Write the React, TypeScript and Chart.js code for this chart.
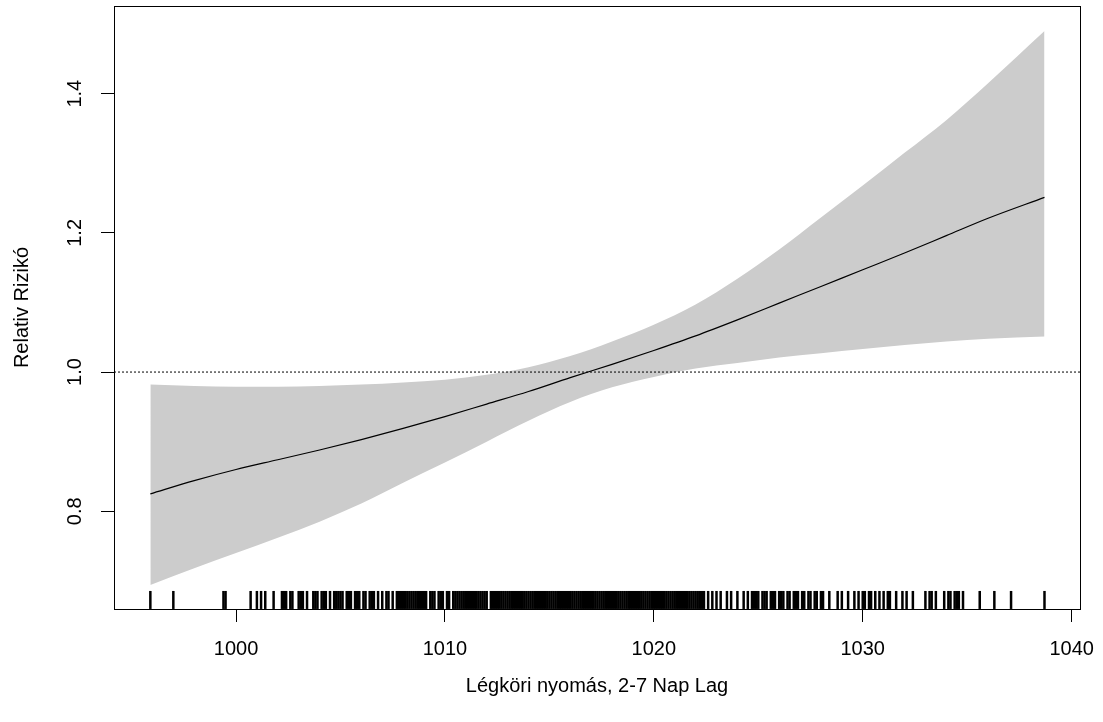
import React, { useEffect, useRef } from 'react';
import { Chart, registerables } from 'chart.js';

Chart.register(...registerables);

// ---- data ----
const bandX = [995.9, 998, 1000, 1002, 1004, 1006, 1008, 1010, 1012, 1014, 1016, 1018, 1020, 1022, 1024, 1026, 1028, 1030, 1032, 1034, 1036, 1038.7];
const rrFit = [0.825, 0.844, 0.86, 0.874, 0.888, 0.903, 0.919, 0.936, 0.954, 0.972, 0.992, 1.011, 1.031, 1.052, 1.075, 1.099, 1.123, 1.147, 1.171, 1.196, 1.221, 1.251];
const rrUpper = [0.982, 0.98, 0.979, 0.979, 0.98, 0.982, 0.985, 0.989, 0.996, 1.007, 1.023, 1.044, 1.068, 1.097, 1.134, 1.176, 1.222, 1.268, 1.315, 1.362, 1.415, 1.49];
const rrLower = [0.694, 0.718, 0.74, 0.762, 0.785, 0.811, 0.841, 0.87, 0.9, 0.93, 0.957, 0.978, 0.993, 1.005, 1.013, 1.021, 1.027, 1.033, 1.039, 1.044, 1.048, 1.051];

const rugValues = [
  995.9, 997.0, 999.4, 999.5, 1000.7, 1001.0, 1001.2, 1001.4, 1001.8,
  1002.2, 1002.3, 1002.4, 1002.6, 1002.7, 1003.0, 1003.1, 1003.2, 1003.4, 1003.7, 1003.8, 1003.9,
  1004.1, 1004.2, 1004.3, 1004.5, 1004.7, 1004.8, 1004.9, 1005.0, 1005.1, 1005.3, 1005.4, 1005.5,
  1005.7, 1005.8, 1005.9, 1006.1, 1006.2, 1006.4, 1006.5, 1006.6, 1006.8, 1007.0, 1007.2, 1007.3, 1007.5,
  1007.7, 1007.8, 1007.9, 1008.0, 1008.1, 1008.2, 1008.3, 1008.4, 1008.5, 1008.6, 1008.7, 1008.8, 1008.9,
  1009.0, 1009.1, 1009.3, 1009.4, 1009.5, 1009.7, 1009.8, 1009.9, 1010.1, 1010.2,
  1010.4, 1010.5, 1010.6, 1010.7, 1010.8, 1010.9, 1011.0, 1011.1, 1011.2, 1011.3,
  1011.4, 1011.5, 1011.6, 1011.7, 1011.8, 1011.9, 1012.0,
  1012.2, 1012.3, 1012.4, 1012.5, 1012.6, 1012.7, 1012.8, 1012.9,
  1013.0, 1013.1, 1013.2, 1013.3, 1013.4, 1013.5, 1013.6, 1013.7, 1013.8, 1013.9,
  1014.0, 1014.1, 1014.2, 1014.3, 1014.4, 1014.5, 1014.6, 1014.7, 1014.8, 1014.9,
  1015.0, 1015.1, 1015.2, 1015.3, 1015.4, 1015.5, 1015.6, 1015.7, 1015.8, 1015.9,
  1016.0, 1016.1, 1016.2, 1016.3, 1016.4, 1016.5, 1016.6, 1016.7, 1016.8, 1016.9,
  1017.0, 1017.1, 1017.2, 1017.3, 1017.4, 1017.5, 1017.6, 1017.7, 1017.8, 1017.9,
  1018.0, 1018.1, 1018.2, 1018.3, 1018.4, 1018.5, 1018.6, 1018.7, 1018.8, 1018.9,
  1019.0, 1019.1, 1019.2, 1019.3, 1019.4, 1019.5, 1019.6, 1019.7, 1019.8, 1019.9,
  1020.0, 1020.1, 1020.2, 1020.3, 1020.4, 1020.5, 1020.6, 1020.7, 1020.8, 1020.9,
  1021.0, 1021.1, 1021.2, 1021.3, 1021.4, 1021.5, 1021.6, 1021.7, 1021.8, 1021.9,
  1022.0, 1022.1, 1022.2, 1022.3, 1022.4,
  1022.6, 1022.8, 1023.0, 1023.2, 1023.5, 1023.7, 1024.0, 1024.3, 1024.5, 1024.7,
  1024.8, 1024.9, 1025.0, 1025.2, 1025.3, 1025.4, 1025.6, 1025.7, 1025.8, 1026.0,
  1026.1, 1026.2, 1026.4, 1026.5, 1026.7, 1026.8, 1026.9, 1027.1, 1027.2, 1027.4,
  1027.5, 1027.7, 1027.8, 1028.0, 1028.1, 1028.4, 1028.8, 1029.0, 1029.3, 1029.6,
  1029.8, 1030.0, 1030.1, 1030.3, 1030.4, 1030.6, 1030.8, 1031.0, 1031.2, 1031.3,
  1031.6, 1031.9, 1032.1, 1032.4, 1033.0, 1033.2, 1033.3, 1033.5, 1033.9, 1034.1,
  1034.2, 1034.4, 1034.5, 1034.6, 1034.8, 1035.6, 1036.3, 1037.1, 1038.7,
];

const xTickValues = [1000, 1010, 1020, 1030, 1040];
const yTickValues = [0.8, 1.0, 1.2, 1.4];
const yTickLabels = ['0.8', '1.0', '1.2', '1.4'];
const refLevel = 1.0;

const xTitle = 'Légköri nyomás, 2-7 Nap Lag';
const yTitle = 'Relativ Rizikó';

const X_MIN = 994.16;
const X_MAX = 1040.4;
const Y_MIN = 0.6595;
const Y_MAX = 1.526;

const FONT = "'Liberation Sans', Arial, sans-serif";

export default function App() {
  const ref = useRef<HTMLCanvasElement>(null);

  useEffect(() => {
    document.body.style.margin = '0';
    if (!ref.current) return;
    const pts = (ys: number[]) => bandX.map((x, i) => ({ x, y: ys[i] }));
    const rugY = Y_MIN + (Y_MAX - Y_MIN) * 0.015;

    const boxPlugin = {
      id: 'rbox',
      afterDatasetsDraw(chart: any) {
        const { ctx, chartArea: a } = chart;
        ctx.save();
        ctx.strokeStyle = '#000';
        ctx.lineWidth = 1;
        const l = Math.round(a.left) + 0.5;
        const r = Math.round(a.right) + 0.5;
        const t = Math.round(a.top) + 0.5;
        const b = Math.round(a.bottom) + 0.5;
        ctx.strokeRect(l, t, r - l, b - t);
        ctx.restore();
      },
    };

    const chart = new Chart(ref.current, {
      type: 'line',
      data: {
        datasets: [
          {
            label: 'ref',
            data: [{ x: X_MIN, y: refLevel }, { x: X_MAX, y: refLevel }],
            borderColor: '#000',
            borderWidth: 1,
            borderDash: [2, 2],
            pointRadius: 0,
            fill: false,
            order: 1,
          },
          {
            label: 'fit',
            data: pts(rrFit),
            borderColor: '#000',
            borderWidth: 1.2,
            pointRadius: 0,
            fill: false,
            cubicInterpolationMode: 'monotone',
            order: 2,
          },
          {
            label: 'rug',
            data: rugValues.map((v) => ({ x: v, y: rugY })),
            showLine: false,
            pointStyle: 'line',
            pointRotation: 90,
            pointRadius: 9,
            pointBorderColor: '#000',
            pointBorderWidth: 2.5,
            borderColor: '#000',
            fill: false,
            order: 3,
          },
          {
            label: 'upper',
            data: pts(rrUpper),
            borderColor: 'rgba(0,0,0,0)',
            borderWidth: 0,
            pointRadius: 0,
            backgroundColor: '#cccccc',
            fill: '+1',
            cubicInterpolationMode: 'monotone',
            order: 4,
          },
          {
            label: 'lower',
            data: pts(rrLower),
            borderColor: 'rgba(0,0,0,0)',
            borderWidth: 0,
            pointRadius: 0,
            fill: false,
            cubicInterpolationMode: 'monotone',
            order: 5,
          },
        ] as any,
      },
      options: {
        responsive: false,
        animation: false,
        events: [],
        layout: { autoPadding: false, padding: { top: 6, right: 23, left: 0, bottom: 0 } },
        plugins: { legend: { display: false }, tooltip: { enabled: false } },
        scales: {
          x: {
            type: 'linear',
            min: X_MIN,
            max: X_MAX,
            afterBuildTicks: (s: any) => {
              s.ticks = xTickValues.map((v) => ({ value: v }));
            },
            afterFit: (s: any) => {
              s.height = 113;
              s.paddingLeft = 0;
              s.paddingRight = 0;
              s.paddingTop = 0;
              s.paddingBottom = 0;
            },
            ticks: {
              color: '#000',
              font: { family: FONT, size: 20 },
              padding: 15,
              maxRotation: 0,
              autoSkip: false,
              callback: (v: any) => String(v),
            },
            grid: { drawOnChartArea: false, drawTicks: true, tickLength: 13, color: '#000', lineWidth: 1 },
            border: { display: true, color: '#000', width: 1 },
            title: {
              display: true,
              text: xTitle,
              color: '#000',
              font: { family: FONT, size: 20 },
              padding: { top: 0, bottom: 24 },
            },
          },
          y: {
            type: 'linear',
            min: Y_MIN,
            max: Y_MAX,
            afterBuildTicks: (s: any) => {
              s.ticks = yTickValues.map((v) => ({ value: v }));
            },
            afterFit: (s: any) => {
              s.width = 114;
              s.paddingLeft = 0;
              s.paddingRight = 0;
              s.paddingTop = 0;
              s.paddingBottom = 0;
            },
            ticks: {
              color: '#000',
              font: { family: FONT, size: 20 },
              padding: 12,
              minRotation: 90,
              maxRotation: 90,
              crossAlign: 'center',
              autoSkip: false,
              callback: (v: any) => {
                const i = yTickValues.findIndex((t) => Math.abs(t - v) < 1e-9);
                return i >= 0 ? yTickLabels[i] : '';
              },
            },
            grid: { drawOnChartArea: false, drawTicks: true, tickLength: 13, color: '#000', lineWidth: 1 },
            border: { display: true, color: '#000', width: 1 },
            title: {
              display: true,
              text: yTitle,
              color: '#000',
              font: { family: FONT, size: 20 },
              padding: { top: 10, bottom: 0 },
            },
          },
        },
      } as any,
      plugins: [boxPlugin],
    });

    return () => chart.destroy();
  }, []);

  return (
    <div style={{ position: 'absolute', left: 0, top: 0, width: 1103, height: 722, background: '#fff' }}>
      <canvas ref={ref} width={1103} height={722} style={{ display: 'block', width: 1103, height: 722 }} />
    </div>
  );
}
